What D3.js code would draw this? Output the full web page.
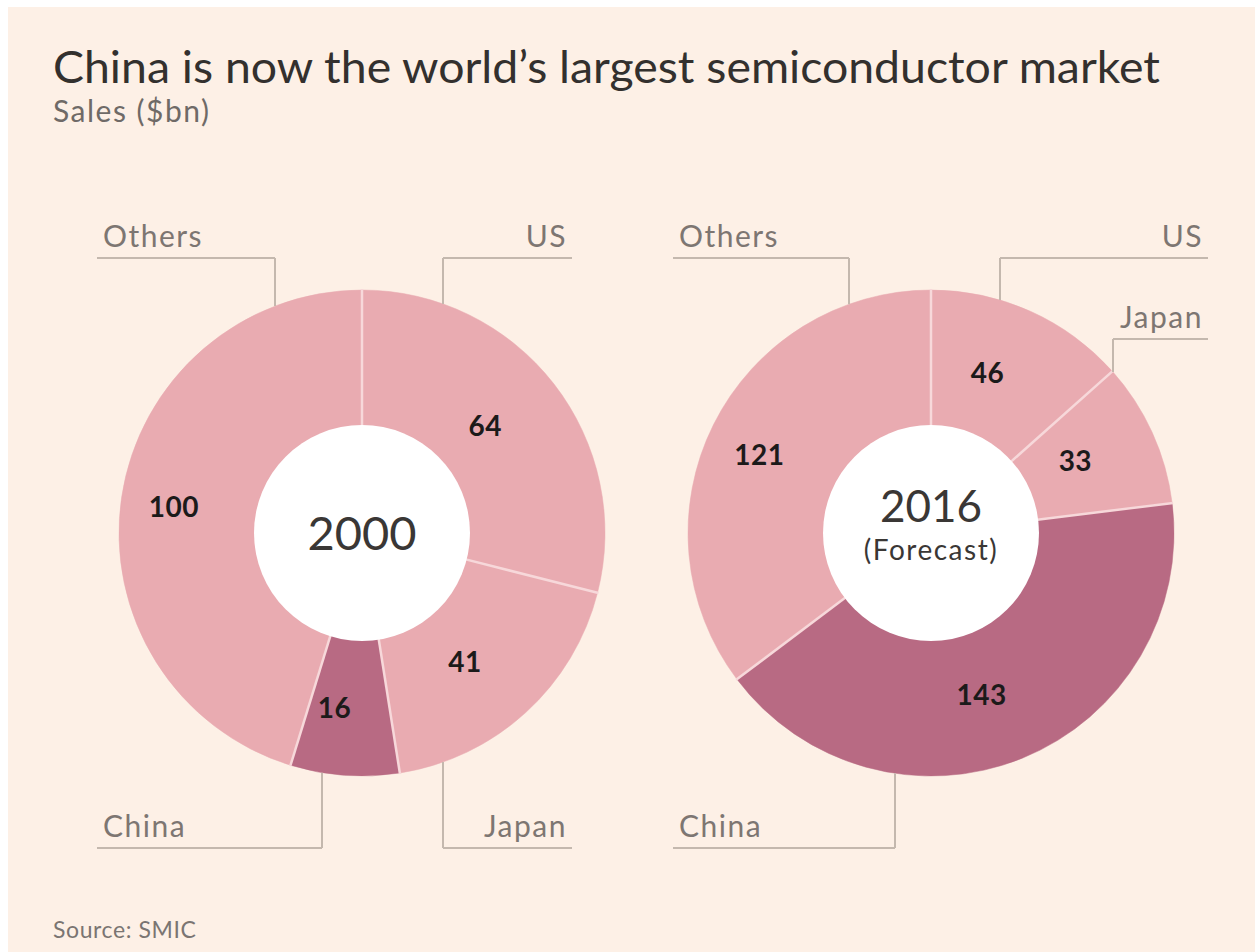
<!DOCTYPE html>
<html>
<head>
<meta charset="utf-8">
<script src="https://cdn.jsdelivr.net/npm/d3@7"></script>
<style>
  html, body { margin: 0; padding: 0; background: #fff; }
  svg { display: block; }
</style>
</head>
<body>
<div id="chart"></div>
<script>
const regions2000 = ["US", "Japan", "China", "Others"];
const sales2000 = [64, 41, 16, 100];
const regions2016 = ["US", "Japan", "China", "Others"];
const sales2016 = [46, 33, 143, 121];

const WIDTH = 1255;
const HEIGHT = 952;
const BG = "#fdf0e6";
const LIGHT = "#e9abb1";
const DARK = "#b86a83";
const SEP = "#f7d8da";
const LEADER = "#c4b8ae";
const LABEL_GREY = "#7d7672";
const FONT = "Lato, 'Open Sans', sans-serif";

const R_OUT = 243;
const R_IN = 107;
const CY = 533;
const VALUE_R = 175;
const VALUE_DX = -15;

// leader layout for each donut: vertical x, horizontal y, horizontal extent
const donuts = [
  {
    cx: 362,
    regions: regions2000,
    values: sales2000,
    centre: ["2000"],
    leaders: {
      Others: { vx: 275, hy: 258, x0: 97, top: true, anchor: "start" },
      US: { vx: 443, hy: 258, x1: 572, top: true, anchor: "end" },
      China: { vx: 322, hy: 848, x0: 97, top: false, anchor: "start" },
      Japan: { vx: 443, hy: 848, x1: 572, top: false, anchor: "end" },
    },
  },
  {
    cx: 931,
    regions: regions2016,
    values: sales2016,
    centre: ["2016", "(Forecast)"],
    leaders: {
      Others: { vx: 849, hy: 258, x0: 673, top: true, anchor: "start" },
      US: { vx: 1000, hy: 258, x1: 1208, top: true, anchor: "end" },
      Japan: { vx: 1113, hy: 339, x1: 1208, top: true, anchor: "end" },
      China: { vx: 895, hy: 848, x0: 673, top: false, anchor: "start" },
    },
  },
];

const svg = d3
  .select("#chart")
  .append("svg")
  .attr("width", WIDTH)
  .attr("height", HEIGHT)
  .style("font-family", FONT);

svg
  .append("rect")
  .attr("x", 8)
  .attr("y", 7)
  .attr("width", WIDTH - 8)
  .attr("height", HEIGHT - 7)
  .attr("fill", BG);

svg
  .append("text")
  .attr("x", 53)
  .attr("y", 83)
  .attr("font-size", 45)
  .attr("fill", "#33302e")
  .attr("textLength", 1107)
  .attr("lengthAdjust", "spacingAndGlyphs")
  .text("China is now the world\u2019s largest semiconductor market");

svg
  .append("text")
  .attr("x", 53)
  .attr("y", 122)
  .attr("font-size", 30)
  .attr("letter-spacing", 1.5)
  .attr("fill", "#6f6a67")
  .text("Sales ($bn)");

svg
  .append("text")
  .attr("x", 53)
  .attr("y", 938)
  .attr("font-size", 23)
  .attr("letter-spacing", 0.6)
  .attr("fill", "#7a7572")
  .text("Source: SMIC");

const pie = d3.pie().sort(null).value((d) => d.value);
const arc = d3.arc().innerRadius(R_IN).outerRadius(R_OUT);
const labelArc = d3.arc().innerRadius(VALUE_R).outerRadius(VALUE_R);

donuts.forEach((dn) => {
  const rows = dn.regions.map((r, i) => ({ region: r, value: dn.values[i] }));
  const arcs = pie(rows);
  const g = svg.append("g").attr("transform", `translate(${dn.cx},${CY})`);

  g.selectAll("path.slice")
    .data(arcs)
    .join("path")
    .attr("class", "slice")
    .attr("d", arc)
    .attr("fill", (d) => (d.data.region === "China" ? DARK : LIGHT))
    .attr("stroke", (d) => (d.data.region === "China" ? DARK : LIGHT))
    .attr("stroke-width", 0.5);

  // pale separators between slices
  g.selectAll("line.sep")
    .data(arcs)
    .join("line")
    .attr("class", "sep")
    .attr("x1", (d) => Math.sin(d.startAngle) * (R_IN - 2))
    .attr("y1", (d) => -Math.cos(d.startAngle) * (R_IN - 2))
    .attr("x2", (d) => Math.sin(d.startAngle) * (R_OUT + 1))
    .attr("y2", (d) => -Math.cos(d.startAngle) * (R_OUT + 1))
    .attr("stroke", SEP)
    .attr("stroke-width", 2.5);

  g.append("circle").attr("r", R_IN + 1).attr("fill", "#ffffff");

  g.selectAll("text.value")
    .data(arcs)
    .join("text")
    .attr("class", "value")
    .attr("transform", (d) => {
      const [x, y] = labelArc.centroid(d);
      return `translate(${x + VALUE_DX},${y})`;
    })
    .attr("text-anchor", "middle")
    .attr("dy", "0.36em")
    .attr("font-size", 28)
    .attr("font-weight", 700)
    .attr("letter-spacing", 0.5)
    .attr("fill", "#1c1a1a")
    .text((d) => d.data.value);

  if (dn.centre.length === 1) {
    g.append("text")
      .attr("text-anchor", "middle")
      .attr("y", 17)
      .attr("font-size", 47)
      .attr("fill", "#3a3735")
      .text(dn.centre[0]);
  } else {
    g.append("text")
      .attr("text-anchor", "middle")
      .attr("y", -11)
      .attr("font-size", 44)
      .attr("fill", "#3a3735")
      .text(dn.centre[0]);
    g.append("text")
      .attr("text-anchor", "middle")
      .attr("y", 27)
      .attr("font-size", 28)
      .attr("letter-spacing", 1.5)
      .attr("fill", "#3a3735")
      .text(dn.centre[1]);
  }

  // leader lines from slice edge to label rule
  Object.entries(dn.leaders).forEach(([name, L]) => {
    const dx = L.vx - dn.cx;
    const edge = Math.sqrt(R_OUT * R_OUT - dx * dx);
    const yEdge = L.top ? CY - edge : CY + edge;
    const hx0 = L.x0 != null ? L.x0 : L.vx;
    const hx1 = L.x1 != null ? L.x1 : L.vx;
    svg
      .append("path")
      .attr("d", `M${hx0},${L.hy}H${hx1}M${L.vx},${L.hy}V${yEdge}`)
      .attr("fill", "none")
      .attr("stroke", LEADER)
      .attr("stroke-width", 2);
    svg
      .append("text")
      .attr("x", L.anchor === "start" ? hx0 + 6 : hx1 - 5)
      .attr("y", L.hy - 11)
      .attr("text-anchor", L.anchor)
      .attr("font-size", 30)
      .attr("letter-spacing", 1.5)
      .attr("fill", LABEL_GREY)
      .text(name);
  });
});
</script>
</body>
</html>
